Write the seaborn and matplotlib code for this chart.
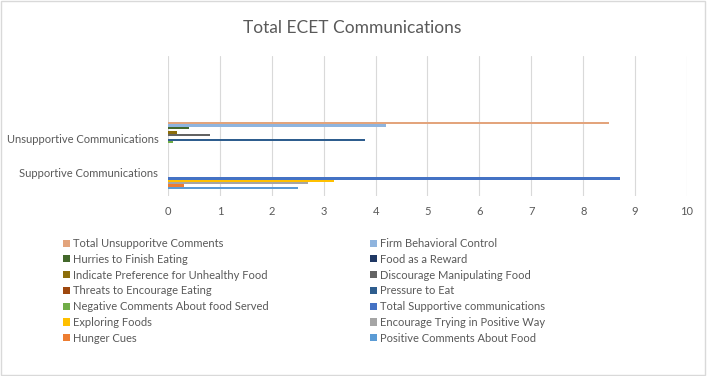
import matplotlib
matplotlib.use('Agg')
import matplotlib.pyplot as plt
from matplotlib.patches import Patch, Rectangle
import seaborn as sns
import pandas as pd

sns.set_theme(style='white')
plt.rcParams['font.family'] = ['Lato', 'DejaVu Sans']

# данные
categories = ['Unsupportive Communications', 'Supportive Communications']
series = [
    'Total Unsupporitve Comments', 'Firm Behavioral Control',
    'Hurries to Finish Eating', 'Food as a Reward',
    'Indicate Preference for Unhealthy Food', 'Discourage Manipulating Food',
    'Threats to Encourage Eating', 'Pressure to Eat',
    'Negative Comments About food Served', 'Total Supportive communications',
    'Exploring Foods', 'Encourage Trying in Positive Way',
    'Hunger Cues', 'Positive Comments About Food',
]
unsupportive_vals = [8.5, 4.2, 0.4, 0.0, 0.17, 0.8, 0.0, 3.8, 0.09, 0, 0, 0, 0, 0]
supportive_vals = [0, 0, 0, 0, 0, 0, 0, 0, 0, 8.7, 3.2, 2.7, 0.3, 2.5]
colors = ['#E3A47C', '#8FB4DE', '#43682B', '#203864', '#8C6D0A', '#636363',
          '#9E480E', '#2E5D8E', '#70AD47', '#4472C4', '#FFC000', '#A5A5A5',
          '#ED7D31', '#5B9BD5']
x_ticks = list(range(0, 11))

rows = []
for s, u, v in zip(series, unsupportive_vals, supportive_vals):
    rows.append({'category': categories[0], 'series': s, 'value': u})
    rows.append({'category': categories[1], 'series': s, 'value': v})
df = pd.DataFrame(rows)

TXT = '#595959'
fig = plt.figure(figsize=(7.07, 3.76), dpi=100)
ax = fig.add_axes([0.2376, 0.479, 0.7341, 0.372])

sns.barplot(data=df, y='category', x='value', hue='series', order=categories,
            hue_order=series, palette=colors, orient='h', width=1.0, gap=0,
            saturation=1, linewidth=0, legend=False, ax=ax)

ax.set_xlim(0, 10)
ax.set_ylim(1.70, -2.45)
ax.set_xticks(x_ticks)
ax.set_xticklabels([str(t) for t in x_ticks])
ax.grid(axis='x', color='#D9D9D9', linewidth=0.8)
ax.set_axisbelow(True)
for sp in ax.spines.values():
    sp.set_visible(False)
ax.set_xlabel('')
ax.set_ylabel('')
ax.tick_params(axis='both', length=0, labelsize=8, labelcolor=TXT, pad=7)

fig.text(0.498, 0.925, 'Total ECET Communications', ha='center', va='center',
         fontsize=12.5, color=TXT)

# легенда: два столбца, порядок по строкам
handles = [Patch(facecolor=c, edgecolor='none') for c in colors]
for col, x0 in [(0, 0.089), (1, 0.524)]:
    idx = list(range(col, len(series), 2))
    leg = fig.legend([handles[i] for i in idx], [series[i] for i in idx],
                     loc='upper left', bbox_to_anchor=(x0, 0.367), ncol=1,
                     frameon=False, fontsize=8, labelcolor=TXT,
                     handlelength=0.6, handleheight=0.6, handletextpad=0.3,
                     labelspacing=0.43, borderpad=0, borderaxespad=0)

fig.patches.append(Rectangle((0.002, 0.003), 0.995, 0.994, transform=fig.transFigure,
                             fill=False, edgecolor='#D9D9D9', linewidth=1))

plt.savefig('out.png', dpi=100)
plt.close()
